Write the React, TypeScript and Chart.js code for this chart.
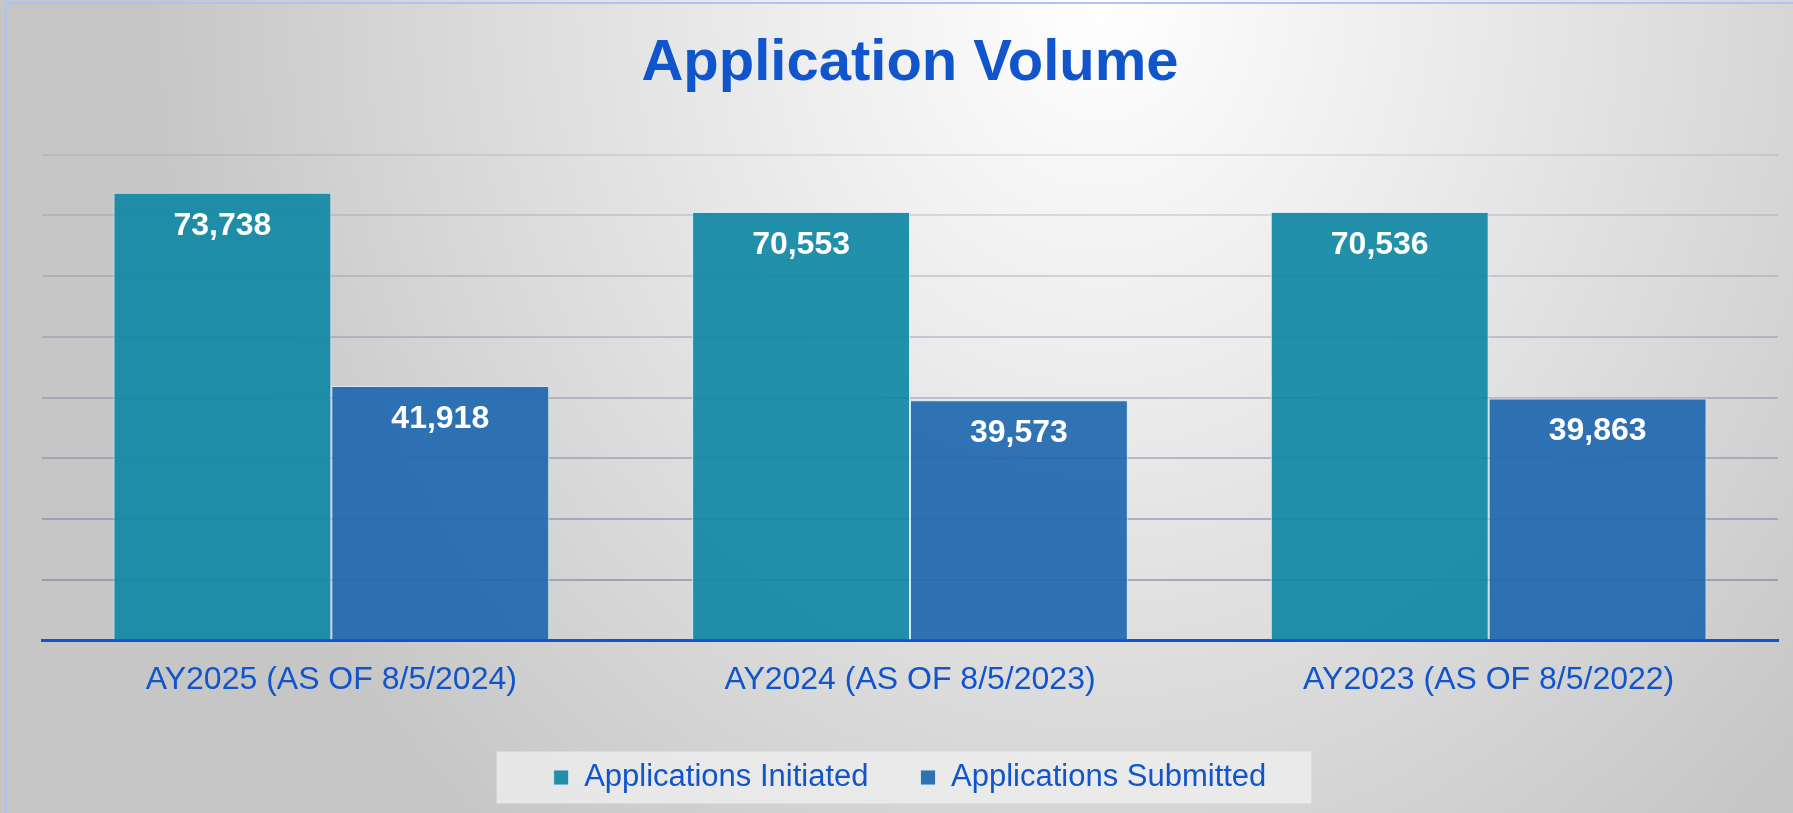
import React, { useEffect, useRef } from "react";
import { Chart, registerables } from "chart.js";

Chart.register(...registerables);

const categories = ["AY2025 (AS OF 8/5/2024)", "AY2024 (AS OF 8/5/2023)", "AY2023 (AS OF 8/5/2022)"];
const initiated = [73738, 70553, 70536];
const submitted = [41918, 39573, 39863];
const seriesNames = ["Applications Initiated", "Applications Submitted"];
const yMax = 80000;
const yStep = 10000;

const FONT = "'Liberation Sans', Arial, Helvetica, sans-serif";
const BLUE_TEXT = "#1155CC";

const valueLabels = {
  id: "valueLabels",
  afterDatasetsDraw(chart: any) {
    const ctx = chart.ctx;
    ctx.save();
    ctx.fillStyle = "#ffffff";
    ctx.font = `bold 32px ${FONT}`;
    ctx.textAlign = "center";
    ctx.textBaseline = "alphabetic";
    chart.data.datasets.forEach((ds: any, di: number) => {
      const meta = chart.getDatasetMeta(di);
      meta.data.forEach((bar: any, i: number) => {
        const v = ds.data[i] as number;
        ctx.fillText(v.toLocaleString("en-US"), bar.x, bar.y + 42);
      });
    });
    ctx.restore();
  },
};

const legendBg = {
  id: "legendBg",
  beforeDraw(chart: any) {
    const lg = chart.legend;
    if (!lg || !lg.legendHitBoxes || !lg.legendHitBoxes.length) return;
    const hb = lg.legendHitBoxes;
    const first = hb[0];
    const last = hb[hb.length - 1];
    const cy = first.top + first.height / 2;
    const ctx = chart.ctx;
    ctx.save();
    ctx.fillStyle = "rgba(240,240,240,0.75)";
    const x0 = first.left - 57;
    const x1 = last.left + last.width + 45;
    ctx.fillRect(x0, cy - 26, x1 - x0, 52);
    ctx.restore();
  },
};

export default function App() {
  const ref = useRef<HTMLCanvasElement | null>(null);

  useEffect(() => {
    document.body.style.margin = "0";
    const canvas = ref.current;
    if (!canvas) return;
    const chart = new Chart(canvas, {
      type: "bar",
      data: {
        labels: categories,
        datasets: [
          {
            label: seriesNames[0],
            data: initiated,
            backgroundColor: "rgba(16,136,165,0.92)",
            borderColor: "rgba(215,232,242,0.95)",
            borderWidth: 1,
            categoryPercentage: 0.753,
            barPercentage: 1.0,
          },
          {
            label: seriesNames[1],
            data: submitted,
            backgroundColor: "rgba(31,104,176,0.92)",
            borderColor: "rgba(215,232,242,0.95)",
            borderWidth: 1,
            categoryPercentage: 0.753,
            barPercentage: 1.0,
          },
        ],
      },
      plugins: [legendBg, valueLabels],
      options: {
        responsive: false,
        animation: false,
        devicePixelRatio: 1,
        layout: { padding: { left: 42, right: 15, top: 0, bottom: 10 } },
        plugins: {
          title: {
            display: true,
            text: "Application Volume",
            color: BLUE_TEXT,
            font: { family: FONT, size: 58, weight: "bold" },
            padding: { top: 29, bottom: 56 },
          },
          legend: {
            display: true,
            position: "bottom",
            labels: {
              color: BLUE_TEXT,
              font: { family: FONT, size: 31 },
              boxWidth: 15,
              boxHeight: 15,
              padding: 52,
            },
          },
          tooltip: { enabled: false },
        },
        scales: {
          x: {
            grid: { display: false, drawTicks: false },
            border: { display: true, color: "#1155CC", width: 3 },
            ticks: {
              color: BLUE_TEXT,
              font: { family: FONT, size: 32 },
              padding: 20,
            },
            afterFit: (scale: any) => {
              scale.height -= 9;
            },
          },
          y: {
            min: 0,
            max: yMax,
            ticks: { display: false, stepSize: yStep },
            border: { display: false },
            grid: {
              drawTicks: false,
              lineWidth: 2,
              color: (c: any) => {
                const v = c.tick ? c.tick.value : 0;
                if (v === 0) return "rgba(0,0,0,0)";
                const t = v / yMax;
                const a = 0.58 - 0.42 * t;
                return `rgba(105,120,158,${a.toFixed(3)})`;
              },
            },
          },
        },
      },
    } as any);
    return () => chart.destroy();
  }, []);

  return (
    <div
      style={{
        position: "relative",
        width: 1793,
        height: 813,
        overflow: "hidden",
        background:
          "radial-gradient(ellipse 950px 1100px at 1100px 0px, #ffffff 0%, #ececec 35%, #d8d8d8 70%, #c6c6c6 100%)",
      }}
    >
      <div
        style={{
          position: "absolute",
          left: 5,
          top: 2,
          width: 1820,
          height: 840,
          border: "2px solid #a8c4f8",
          boxSizing: "border-box",
        }}
      />
      <canvas
        ref={ref}
        width={1793}
        height={813}
        style={{ position: "absolute", left: 0, top: 0, width: 1793, height: 813 }}
      />
    </div>
  );
}
